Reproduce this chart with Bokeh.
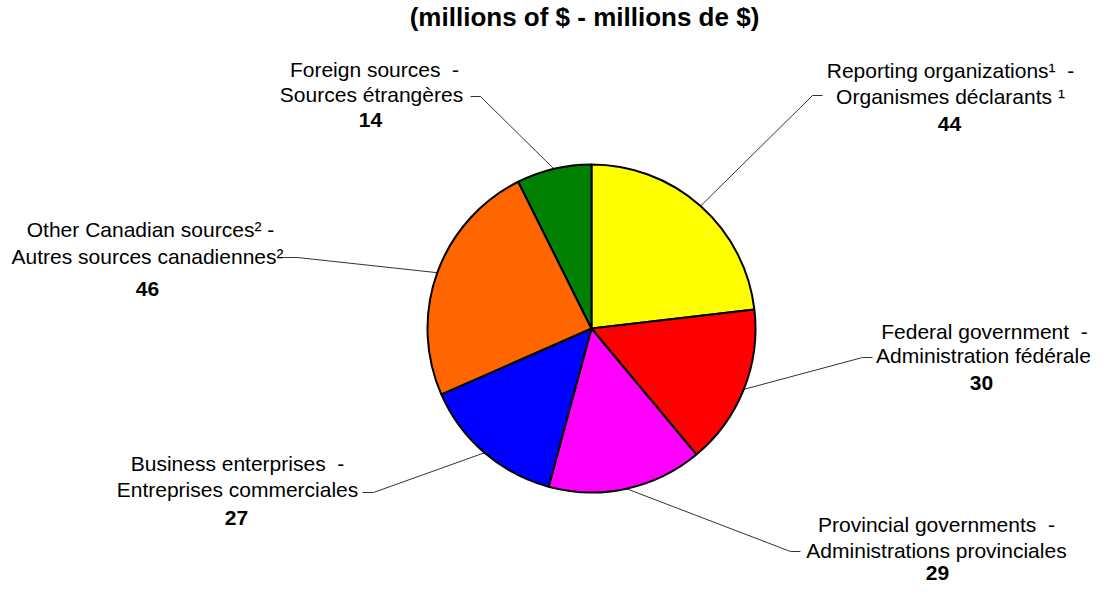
import math
from bokeh.plotting import figure
from bokeh.models import Range1d, ColumnDataSource
from bokeh.core.properties import value
from bokeh.embed import file_html
from bokeh.resources import INLINE

# ---- data ----
title_text = "(millions of $ - millions de $)"
labels_en = ["Reporting organizations\u00b9\u00a0\u00a0-", "Federal government\u00a0\u00a0-",
             "Provincial governments\u00a0\u00a0-", "Business enterprises\u00a0\u00a0-",
             "Other Canadian sources\u00b2\u00a0-", "Foreign sources\u00a0\u00a0-"]
labels_fr = ["Organismes d\u00e9clarants \u00b9", "Administration f\u00e9d\u00e9rale",
             "Administrations provinciales", "Entreprises commerciales",
             "Autres sources canadiennes\u00b2", "Sources \u00e9trang\u00e8res"]
values = [44, 30, 29, 27, 46, 14]
colors = ["#FFFF00", "#FF0000", "#FF00FF", "#0000FF", "#FF6600", "#008000"]

# ---- layout (reference pixel coordinates, origin top-left) ----
H = 600
cx, cy, R = 591, 328, 164
# per label: (line1 x, line1 baseline, line2 x, line2 baseline, number x, number baseline)
label_pos = [
    (950, 79, 950, 105, 949, 133),
    (984, 340, 983, 364, 981, 392),
    (936, 533, 936, 559, 937, 582),
    (237, 472, 237, 498, 236, 527),
    (150, 238, 147, 265, 147, 298),
    (374, 78, 371, 103, 370, 129),
]
# leader elbows: (elbow x, elbow y, end x, end y)
leaders = [
    (812, 95, 822, 95),
    (862, 357, 872, 357),
    (790, 551, 800, 551),
    (373, 492, 362, 492),
    (297, 257, 283, 257),
    (480, 96, 470, 96),
]
BODY = 21
TITLE = 26

def Y(y):
    return H - y

def YT(y, size):
    # compensate renderer's baseline placement
    return H - y + 0.43 * size

p = figure(width=1094, height=584, x_range=Range1d(0, 1094), y_range=Range1d(16, 600),
           output_backend="svg", toolbar_location=None, min_border=0,
           x_axis_location=None, y_axis_location=None)
p.grid.visible = False
p.outline_line_color = None
p.background_fill_color = "white"
p.border_fill_color = "white"

total = sum(values)
starts, ends, mids = [], [], []
cum = 0
for v in values:
    a0 = math.pi / 2 - 2 * math.pi * cum / total
    a1 = math.pi / 2 - 2 * math.pi * (cum + v) / total
    starts.append(a0)
    ends.append(a1)
    mids.append((a0 + a1) / 2)
    cum += v

# leader lines
xs, ys = [], []
for m, (ex, ey, tx, ty) in zip(mids, leaders):
    sx = cx + R * math.cos(m)
    sy = Y(cy) + R * math.sin(m)
    xs.append([sx, ex, tx])
    ys.append([sy, Y(ey), Y(ty)])
p.multi_line(xs=xs, ys=ys, line_color="#333333", line_width=1)

# pie
src = ColumnDataSource(dict(start=starts, end=ends, color=colors))
p.wedge(x=cx, y=Y(cy), radius=R, start_angle="start", end_angle="end", direction="clock",
        fill_color="color", line_color="black", line_width=2, source=src)

font = value("Liberation Sans")
t_x, t_y, t_txt = [], [], []
n_x, n_y, n_txt = [], [], []
for en, fr, v, pos in zip(labels_en, labels_fr, values, label_pos):
    t_x += [pos[0], pos[2]]
    t_y += [YT(pos[1], BODY), YT(pos[3], BODY)]
    t_txt += [en, fr]
    n_x.append(pos[4])
    n_y.append(YT(pos[5], BODY))
    n_txt.append(str(v))

p.text(x=t_x, y=t_y, text=t_txt, text_align="center", text_baseline="alphabetic",
       text_font=font, text_font_size=f"{BODY}px", text_color="black")
p.text(x=n_x, y=n_y, text=n_txt, text_align="center", text_baseline="alphabetic",
       text_font=font, text_font_size=f"{BODY}px", text_font_style="bold", text_color="black")
p.text(x=[584], y=[YT(28, TITLE)], text=[title_text], text_align="center", text_baseline="alphabetic",
       text_font=font, text_font_size=f"{TITLE}px", text_font_style="bold", text_color="black")

open("out.html", "w").write(file_html(p, INLINE))
